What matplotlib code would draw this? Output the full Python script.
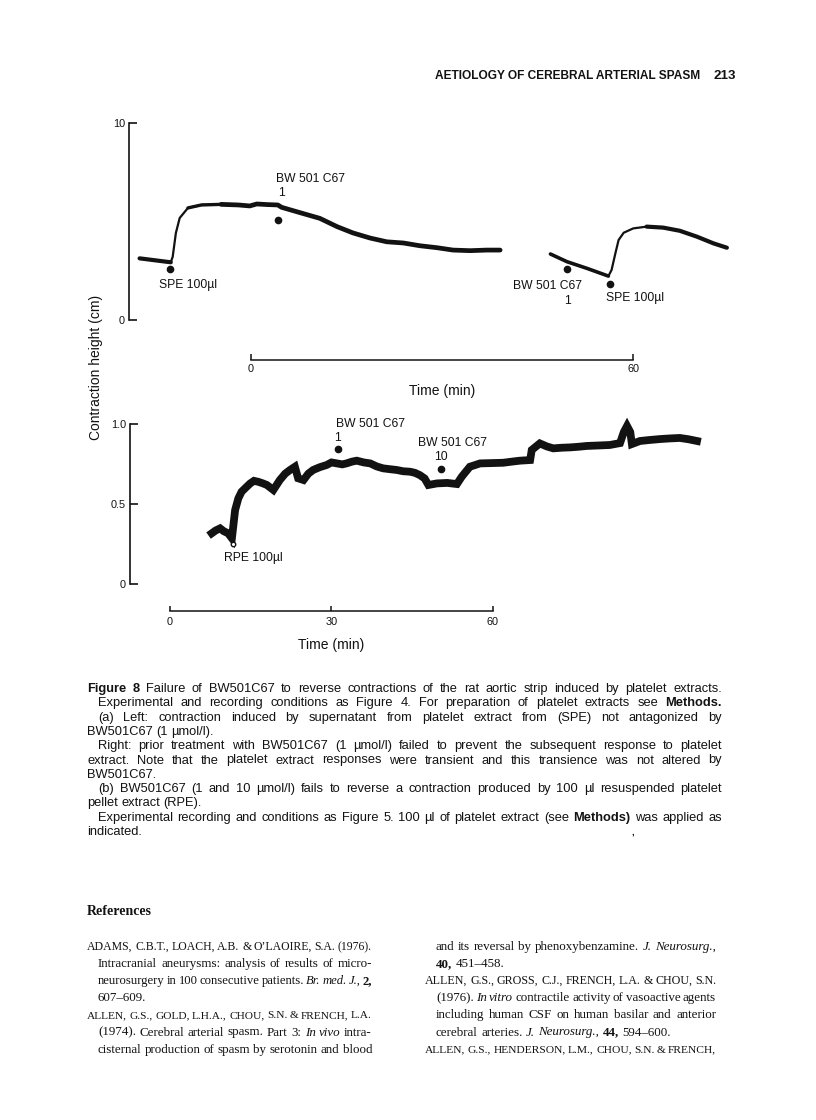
import matplotlib
matplotlib.use("Agg")
import matplotlib.pyplot as plt

# ---- data ----
# (a) left trace: time (min, relative to the scale bar) and contraction height (cm)
a1_time = [-17.5, -12.6, -12.3, -11.8, -11.2, -9.9, -7.8, -4.7, -2.0, -0.2, 0.9, 2.5,
           4.2, 4.8, 8.0, 10.8, 13.5, 16.0, 18.7, 21.3, 23.9, 26.5, 29.2, 31.7, 34.4,
           37.0, 39.1]
a1_height = [3.13, 2.93, 3.21, 4.42, 5.18, 5.69, 5.84, 5.87, 5.84, 5.79, 5.89, 5.86,
             5.84, 5.72, 5.42, 5.16, 4.74, 4.42, 4.16, 3.97, 3.91, 3.77, 3.67, 3.55,
             3.52, 3.55, 3.55]
# (a) right trace
a2_time = [47.0, 49.6, 52.75, 56.1, 56.6, 57.2, 57.7, 58.5, 60.0, 62.1, 64.7, 67.3,
           70.0, 72.6, 74.7]
a2_height = [3.35, 2.96, 2.62, 2.23, 2.54, 3.39, 4.06, 4.43, 4.65, 4.74, 4.69, 4.53,
             4.23, 3.89, 3.67]
# (b) trace
b_time = [7.75, 8.5, 9.3, 10.0, 10.8, 11.5, 12.1, 12.7, 13.3, 14.0, 14.9, 15.6, 16.4,
          17.2, 18.0, 19.2, 20.4, 21.4, 22.3, 23.2, 23.8, 24.8, 25.7, 26.6, 27.8, 29.1,
          30.0, 31.0, 32.0, 32.8, 33.8, 34.7, 36.0, 37.2, 38.4, 39.6, 40.8, 42.1, 43.3,
          44.6, 45.5, 46.4, 47.3, 48.0, 49.6, 51.5, 53.3, 54.2, 55.7, 57.6, 59.8, 61.9,
          63.5, 65.0, 66.9, 67.2, 68.7, 70.0, 71.2, 72.8, 74.3, 75.9, 77.4, 79.6, 81.7,
          83.6, 84.3, 84.9, 85.5, 85.8, 87.3, 89.0, 91.0, 92.8, 94.7, 96.3, 97.9]
b_height = [0.317, 0.335, 0.348, 0.330, 0.317, 0.286, 0.463, 0.536, 0.577, 0.600, 0.629,
            0.645, 0.639, 0.630, 0.619, 0.588, 0.650, 0.690, 0.713, 0.733, 0.661, 0.650,
            0.690, 0.713, 0.730, 0.744, 0.760, 0.754, 0.748, 0.754, 0.765, 0.771, 0.760,
            0.754, 0.735, 0.723, 0.718, 0.713, 0.705, 0.702, 0.695, 0.681, 0.660, 0.619,
            0.629, 0.632, 0.625, 0.671, 0.733, 0.754, 0.756, 0.758, 0.765, 0.771, 0.775,
            0.838, 0.879, 0.860, 0.848, 0.852, 0.854, 0.858, 0.863, 0.866, 0.869, 0.881,
            0.950, 0.988, 0.950, 0.875, 0.894, 0.900, 0.906, 0.910, 0.913, 0.905, 0.894]

# drug additions: (time, height of dot)
a_dose_time = [-12.8, 4.2, 49.6, 56.4]
a_dose_height = [2.57, 5.08, 2.57, 1.81]
b_dose_time = [31.15, 50.3]
b_dose_height = [0.842, 0.717]
b_rpe = (11.65, 0.25)

a_yticks = [0, 10]
a_ytick_labels = ["0", "10"]
b_yticks = [0, 0.5, 1.0]
b_ytick_labels = ["0", "0.5", "1.0"]
a_scale = [0, 60]
b_scale = [0, 30, 60]

header = "AETIOLOGY OF CEREBRAL ARTERIAL SPASM"
page_no = "213"

caption = [
    "**Figure 8** Failure of BW501C67 to reverse contractions of the rat aortic strip induced by platelet extracts.",
    "Experimental and recording conditions as Figure 4. For preparation of platelet extracts see **Methods.**",
    "(a) Left: contraction induced by supernatant from platelet extract from (SPE) not antagonized by",
    "BW501C67 (1 \u00b5mol/l).",
    "Right: prior treatment with BW501C67 (1 \u00b5mol/l) failed to prevent the subsequent response to platelet",
    "extract. Note that the platelet extract responses were transient and this transience was not altered by",
    "BW501C67.",
    "(b) BW501C67 (1 and 10 \u00b5mol/l) fails to reverse a contraction produced by 100 \u00b5l resuspended platelet",
    "pellet extract (RPE).",
    "Experimental recording and conditions as Figure 5. 100 \u00b5l of platelet extract (see **Methods)** was applied as",
    "indicated.",
]
caption_indent = [False, True, True, False, True, False, False, True, False, True, False]
caption_justify = [True, True, True, False, True, True, False, True, False, True, False]

refs_left = [
    "ADAMS, C.B.T., LOACH, A.B. & O\u2019LAOIRE, S.A. (1976).",
    "Intracranial aneurysms: analysis of results of micro-",
    "neurosurgery in 100 consecutive patients. *Br. med. J.,* **2,**",
    "607\u2013609.",
    "ALLEN, G.S., GOLD, L.H.A., CHOU, S.N. & FRENCH, L.A.",
    "(1974). Cerebral arterial spasm. Part 3: *In vivo* intra-",
    "cisternal production of spasm by serotonin and blood",
]
refs_left_indent = [False, True, True, True, False, True, True]
refs_left_justify = [True, True, True, False, True, True, True]
refs_right = [
    "and its reversal by phenoxybenzamine. *J. Neurosurg.,*",
    "**40,** 451\u2013458.",
    "ALLEN, G.S., GROSS, C.J., FRENCH, L.A. & CHOU, S.N.",
    "(1976). *In vitro* contractile activity of vasoactive agents",
    "including human CSF on human basilar and anterior",
    "cerebral arteries. *J. Neurosurg.,* **44,** 594\u2013600.",
    "ALLEN, G.S., HENDERSON, L.M., CHOU, S.N. & FRENCH,",
]
refs_right_indent = [True, True, False, True, True, True, False]
refs_right_justify = [True, False, True, True, True, False, True]

# ---- figure ----
W, H = 816, 1120
INK = "#121212"
SANS = "Liberation Sans"
SERIF = "Liberation Serif"

fig = plt.figure(figsize=(W / 100, H / 100), dpi=100)
fig.patch.set_facecolor("white")
renderer = fig.canvas.get_renderer()


def fx(x):
    return x / W


def fy(y):
    return 1 - y / H


def parse(line):
    out = []
    bold = ital = False
    for w in line.split():
        wb, wi = bold, ital
        clean, first, i = "", True, 0
        while i < len(w):
            if w.startswith("**", i):
                bold = not bold
                i += 2
                continue
            if w[i] == "*":
                ital = not ital
                i += 1
                continue
            if first:
                wb, wi, first = bold, ital, False
            clean += w[i]
            i += 1
        out.append((clean, wb, wi))
    return out


def put_line(line, x0, y, size, family, x1=None, min_gap=2.5):
    words = parse(line)
    texts = []
    for w, b, it in words:
        t = fig.text(0, fy(y), w, fontsize=size, family=family, color=INK,
                     weight="bold" if b else "normal",
                     style="italic" if it else "normal", va="baseline", ha="left")
        texts.append(t)
    widths = [t.get_window_extent(renderer).width for t in texts]
    gap = size * 0.36
    if x1 is not None and len(words) > 1:
        natural = sum(widths) + min_gap * (len(words) - 1)
        if natural > x1 - x0:
            # squeeze the type a little so a crowded line still fits
            shrink = (x1 - x0 - min_gap * (len(words) - 1)) / sum(widths)
            for t in texts:
                t.set_fontsize(size * shrink)
            widths = [t.get_window_extent(renderer).width for t in texts]
        gap = (x1 - x0 - sum(widths)) / (len(words) - 1)
    x = x0
    for t, wd in zip(texts, widths):
        t.set_x(fx(x))
        x += wd + gap


# header
fig.text(fx(700), fy(79), header, fontsize=8.6, family=SANS, weight="bold",
         color=INK, ha="right", va="baseline")
fig.text(fx(736), fy(79), page_no, fontsize=9.6, family=SANS, weight="bold",
         color=INK, ha="right", va="baseline")

# y label shared by both panels
fig.text(fx(96), fy(367), "Contraction height (cm)", fontsize=10, family=SANS,
         color=INK, rotation=90, ha="center", va="center")


def style_axis(ax, ticks, labels, top):
    for s in ["top", "right", "bottom"]:
        ax.spines[s].set_visible(False)
    ax.spines["left"].set_bounds(0, top)
    ax.spines["left"].set_linewidth(1.2)
    ax.spines["left"].set_color(INK)
    ax.set_xticks([])
    ax.set_yticks(ticks)
    ax.set_yticklabels(labels, family=SANS, fontsize=7.8, color=INK)
    ax.tick_params(axis="y", direction="in", length=6, width=1.2, color=INK, pad=3)
    ax.patch.set_alpha(0)


def lab(ax, x, y, s, dx, dy, ha="left", size=8.7):
    ax.annotate(s, (x, y), xytext=(dx, -dy), textcoords="offset pixels",
                ha=ha, va="center", fontsize=size, family=SANS, color=INK,
                annotation_clip=False)


def scale_bar(ax, ticks, level, tick_h, label_dy, title_dy):
    ax.plot([ticks[0], ticks[-1]], [level, level], color=INK, lw=1.1, clip_on=False)
    ax.vlines(ticks, level, level + tick_h, color=INK, lw=1.1, clip_on=False)
    for t in ticks:
        lab(ax, t, level, str(t), 0, label_dy, ha="center", size=7.8)
    lab(ax, (ticks[0] + ticks[-1]) / 2, level, "Time (min)", 0, title_dy,
        ha="center", size=10)


# ---- panel (a) ----
ax1 = fig.add_axes([fx(129), fy(400), (760 - 129) / W, 290 / H])
ax1.set_xlim(-19.16, 79.9)
ax1.set_ylim(-4.06, 10.66)
style_axis(ax1, a_yticks, a_ytick_labels, 10)

ax1.plot(a1_time, a1_height, color=INK, lw=1.6, solid_capstyle="round")
ax1.plot(a1_time[:2], a1_height[:2], color=INK, lw=3.0, solid_capstyle="round")
ax1.plot(a1_time[7:], a1_height[7:], color=INK, lw=3.4, solid_capstyle="round")
ax1.plot(a1_time[5:8], a1_height[5:8], color=INK, lw=2.4, solid_capstyle="round")
ax1.plot(a2_time, a2_height, color=INK, lw=1.6, solid_capstyle="round")
ax1.plot(a2_time[:4], a2_height[:4], color=INK, lw=2.6, solid_capstyle="round")
ax1.plot(a2_time[9:], a2_height[9:], color=INK, lw=3.0, solid_capstyle="round")
ax1.plot(a_dose_time, a_dose_height, "o", color=INK, ms=4.5)

lab(ax1, a_dose_time[0], a_dose_height[0], "SPE 100\u00b5l", -11, 16)
lab(ax1, a_dose_time[1], a_dose_height[1], "BW 501 C67", -2, -41)
lab(ax1, a_dose_time[1], a_dose_height[1], "1", 0, -27, ha="left")
lab(ax1, a_dose_time[2], a_dose_height[2], "BW 501 C67", -19, 17, ha="center")
lab(ax1, a_dose_time[2], a_dose_height[2], "1", 0, 32, ha="center")
lab(ax1, a_dose_time[3], a_dose_height[3], "SPE 100\u00b5l", -4, 14)

scale_bar(ax1, a_scale, -2.03, 0.3, 9, 31)

# ---- panel (b) ----
ax2 = fig.add_axes([fx(130), fy(665), 630 / W, 260 / H])
ax2.set_xlim(-7.43, 109.6)
ax2.set_ylim(-0.506, 1.119)
style_axis(ax2, b_yticks, b_ytick_labels, 1.0)

ax2.plot(b_time, b_height, color=INK, lw=5.6, solid_joinstyle="miter")
ax2.plot(b_dose_time, b_dose_height, "o", color=INK, ms=4.5)
ax2.plot([b_rpe[0]], [b_rpe[1]], "o", mfc="white", mec=INK, mew=1.0, ms=3.2)

lab(ax2, b_rpe[0], b_rpe[1], "RPE 100\u00b5l", -9, 14)
lab(ax2, b_dose_time[0], b_dose_height[0], "BW 501 C67", -2, -25)
lab(ax2, b_dose_time[0], b_dose_height[0], "1", 0, -11, ha="center")
lab(ax2, b_dose_time[1], b_dose_height[1], "BW 501 C67", 12, -26, ha="center")
lab(ax2, b_dose_time[1], b_dose_height[1], "10", 0, -12, ha="center")

scale_bar(ax2, b_scale, -0.169, 0.03, 11, 34)

# ---- caption ----
cap_y0, cap_dy = 692, 14.3
for k, line in enumerate(caption):
    x0 = 98 if caption_indent[k] else 87
    put_line(line, x0, cap_y0 + k * cap_dy, 9.3, SANS,
             722 if caption_justify[k] else None)
fig.text(fx(631), fy(835), ",", fontsize=7, family=SANS, color=INK, weight="bold")

# ---- references ----
fig.text(fx(87), fy(915), "References", fontsize=10, family=SERIF, weight="bold",
         color=INK, va="baseline")
ref_y0, ref_dy = 950, 17.1
for k, line in enumerate(refs_left):
    x0 = 98 if refs_left_indent[k] else 87
    put_line(line, x0, ref_y0 + k * ref_dy, 9.4, SERIF,
             372 if refs_left_justify[k] else None)
for k, line in enumerate(refs_right):
    x0 = 436 if refs_right_indent[k] else 425
    put_line(line, x0, ref_y0 + k * ref_dy, 9.4, SERIF,
             716 if refs_right_justify[k] else None)

fig.savefig("out.png", dpi=100, facecolor="white")
